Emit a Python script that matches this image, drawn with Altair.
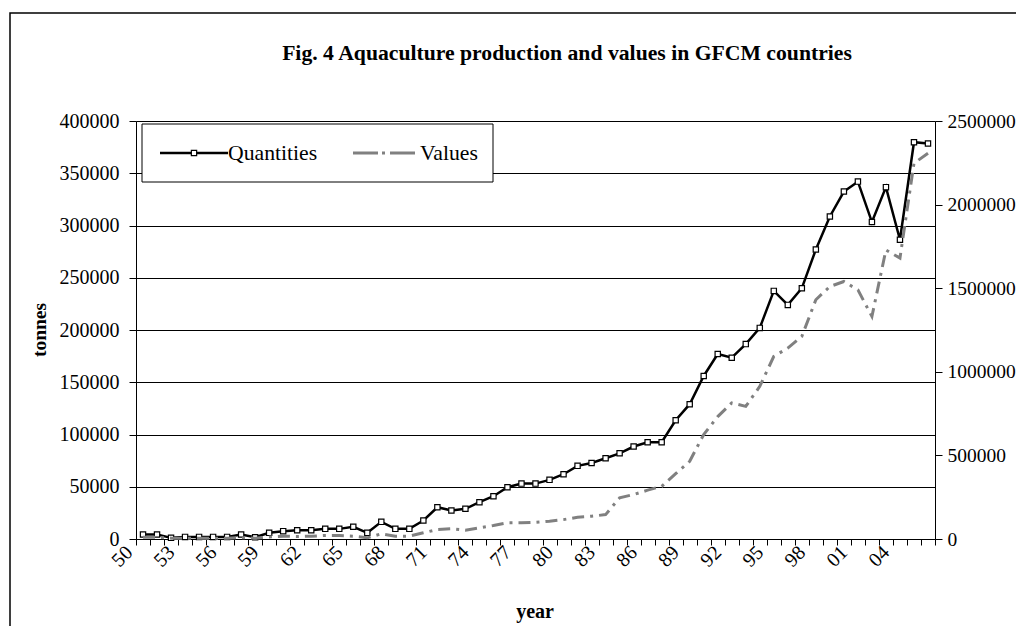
import altair as alt
import pandas as pd

years = list(range(1950, 2007))
quantities = [4300, 4300, 1100, 2000, 2000, 2000, 2000, 4300, 1700, 5900,
              7500, 8400, 8400, 9700, 9700, 11700, 5900, 16400, 9700, 9700,
              17700, 30400, 27200, 28900, 35200, 40900, 49500, 53000, 53000, 56600,
              62000, 70000, 72800, 77300, 82000, 88500, 92600, 92600, 113600, 129000,
              156000, 177000, 173500, 186500, 202000, 237400, 224000, 240000, 277000, 308600,
              332500, 342000, 303300, 336700, 286400, 379700, 378400]
values = [10000, 10000, 5000, 5000, 5000, 5000, 5000, 8000, 5000, 12000,
          17000, 15000, 17000, 21000, 21000, 17000, 7000, 31000, 17000, 17000,
          37000, 57000, 61000, 53000, 67000, 81000, 97000, 97000, 100000, 106000,
          116000, 130000, 136000, 146000, 246000, 266000, 292000, 315000, 391000, 465000,
          625000, 732000, 814000, 793000, 913000, 1092000, 1142000, 1212000, 1431000, 1510000,
          1540000, 1490000, 1331000, 1729000, 1680000, 2247000, 2307000]
tick_years = [1950, 1953, 1956, 1959, 1962, 1965, 1968, 1971, 1974, 1977,
              1980, 1983, 1986, 1989, 1992, 1995, 1998, 2001, 2004]
tick_labels = ["50", "53", "56", "59", "62", "65", "68", "71", "74", "77",
               "80", "83", "86", "89", "92", "95", "98", "01", "04"]
left_ticks = [0, 50000, 100000, 150000, 200000, 250000, 300000, 350000, 400000]
right_ticks = [0, 500000, 1000000, 1500000, 2000000, 2500000]

title_text = "Fig. 4 Aquaculture production and values in GFCM countries"
FONT = "Liberation Serif"

df = pd.DataFrame({"year": years, "Quantities": quantities, "Values": values})

W, H = 799, 418
boundaries = [y - 0.5 for y in years] + [years[-1] + 0.5]
expr = "''"
for ty, tl in reversed(list(zip(tick_years, tick_labels))):
    expr = f"datum.value == {ty - 0.5} ? '{tl}' : ({expr})"

xscale = alt.Scale(domain=[years[0] - 0.5, years[-1] + 0.5], nice=False, zero=False)
xaxis = alt.Axis(values=boundaries, labelExpr=expr, title=None, grid=False,
                 tickSize=6, tickColor="black", domainColor="black",
                 labelAngle=315, labelAlign="right", labelBaseline="middle",
                 labelOffset=-7, labelPadding=4, labelFont=FONT, labelFontSize=20,
                 labelColor="black", labelOverlap=False, labelFlush=False,
                 labelBound=False)
xenc = alt.X("year:Q", scale=xscale, axis=xaxis)

qscale = alt.Scale(domain=[0, 400000], nice=False)
qaxis = alt.Axis(orient="left", values=left_ticks, title=None, format="d",
                 grid=True, gridColor="black", gridWidth=1, gridOpacity=1,
                 tickSize=7, tickColor="black", domainColor="black",
                 labelPadding=10, labelFont=FONT, labelFontSize=20,
                 labelColor="black", labelFlush=False)

base = alt.Chart(df)

q_line = base.mark_line(color="black", strokeWidth=2.5).encode(
    x=xenc, y=alt.Y("Quantities:Q", scale=qscale, axis=qaxis))
q_pts = base.mark_point(shape="square", size=28, filled=True, fill="white",
                        stroke="black", strokeWidth=1.2, opacity=1).encode(
    x=xenc, y=alt.Y("Quantities:Q", scale=qscale, axis=qaxis))
q_layer = alt.layer(q_line, q_pts)

v_line = base.mark_line(color="#808080", strokeWidth=3, strokeDash=[12, 6, 3, 6]).encode(
    x=xenc,
    y=alt.Y("Values:Q",
            scale=alt.Scale(domain=[0, 2500000], nice=False),
            axis=alt.Axis(orient="right", values=right_ticks, title=None, format="d",
                          grid=False, tickSize=7, tickColor="black", domainColor="black",
                          labelPadding=5, labelFont=FONT, labelFontSize=19.5,
                          labelColor="black", labelFlush=False)))
data_layer = alt.layer(q_layer, v_line).resolve_scale(y="independent")

one = pd.DataFrame({"a": [0]})

border = alt.Chart(one).mark_rect(fillOpacity=0, stroke="black", strokeWidth=1.5).encode(
    x=alt.value(-126), x2=alt.value(881), y=alt.value(-108), y2=alt.value(700))

title = alt.Chart(pd.DataFrame({"t": [title_text]})).mark_text(
    font=FONT, fontSize=21.7, fontWeight="bold", color="black", align="center",
    baseline="middle").encode(text="t:N", x=alt.value(431), y=alt.value(-68))

ytitle = alt.Chart(pd.DataFrame({"t": ["tonnes"]})).mark_text(
    font=FONT, fontSize=19.5, fontWeight="bold", color="black", align="center",
    baseline="middle", angle=270).encode(text="t:N", x=alt.value(-96), y=alt.value(209))

xtitle = alt.Chart(pd.DataFrame({"t": ["year"]})).mark_text(
    font=FONT, fontSize=20, fontWeight="bold", color="black", align="center",
    baseline="middle").encode(text="t:N", x=alt.value(399), y=alt.value(491))

leg_box = alt.Chart(one).mark_rect(fill="white", stroke="black", strokeWidth=1).encode(
    x=alt.value(6), x2=alt.value(357), y=alt.value(3), y2=alt.value(61))
leg_q = alt.Chart(one).mark_rule(color="black", strokeWidth=2.5).encode(
    x=alt.value(24), x2=alt.value(92), y=alt.value(32))
leg_qpt = alt.Chart(one).mark_point(shape="square", size=28, filled=True, fill="white",
                                    stroke="black", strokeWidth=1.2, opacity=1).encode(
    x=alt.value(58), y=alt.value(32))
leg_v = alt.Chart(one).mark_rule(color="#808080", strokeWidth=3, strokeDash=[25, 4, 3, 5]).encode(
    x=alt.value(217), x2=alt.value(279), y=alt.value(32))
leg_text = alt.Chart(pd.DataFrame({"t": ["Quantities", "Values"], "xx": [92, 284]})).mark_text(
    font=FONT, fontSize=21.7, color="black", align="left", baseline="middle").encode(
    text="t:N", x=alt.X("xx:Q", scale=None), y=alt.value(32))

chart = alt.layer(
    border, title, ytitle, xtitle, data_layer,
    leg_box, leg_q, leg_qpt, leg_v, leg_text
).properties(
    width=W, height=H,
    autosize=alt.AutoSizeParams(type="none"),
    padding={"left": 128, "top": 113, "right": 81, "bottom": 87},
).configure_view(stroke="black", strokeWidth=1).configure_axisX(
    labelOverlap=False
).configure(background="white")

chart.save("out.html", embed_options={"renderer": "svg", "actions": False})
